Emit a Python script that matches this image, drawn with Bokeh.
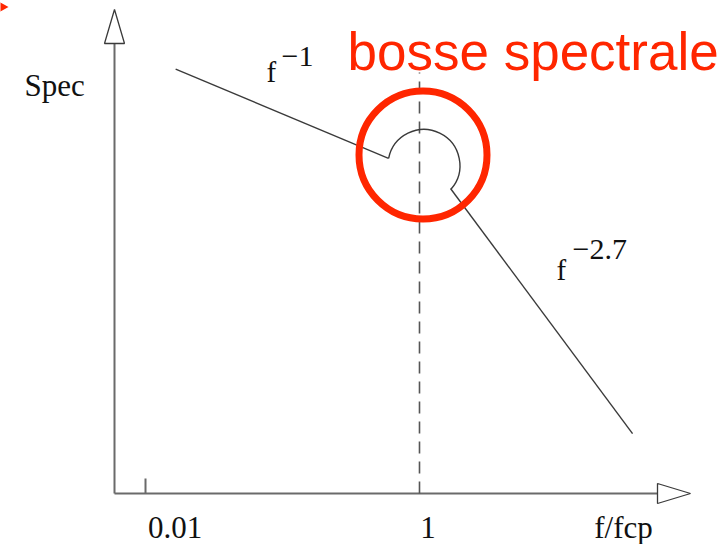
import math

from bokeh.core.properties import value
from bokeh.embed import file_html
from bokeh.models import Range1d
from bokeh.plotting import figure
from bokeh.resources import INLINE

# --- spectrum schematic, log-log: Spec versus f/fcp -------------------------
# low-frequency branch, Spec ~ f^-1
f_low = [0.0166, 0.594]
spec_low = [60.2, 1.63]
# high-frequency branch, Spec ~ f^-2.7
f_high = [1.684, 35.9]
spec_high = [0.483, 2.43e-5]
# spectral bump around the cut-off frequency
bump_f = [1.077]
bump_spec = [1.224]
# cut-off frequency (dashed line) and ticks on the frequency axis
fcp = [1.0]
tick_f = [0.01, 1.0]
tick_labels = ["0.01", "1"]

# --- view: decades mapped onto a 724 x 544 canvas -----------------------------
W, H = 724, 544
X0, X1 = 8.74e-4, 168.4
Y0, Y1 = 2.75e-7, 960.0


def fx(px):
    """horizontal canvas position -> frequency"""
    return X0 * (X1 / X0) ** (px / W)


def sy(py):
    """vertical canvas position (from top) -> spectrum level"""
    return Y0 * (Y1 / Y0) ** ((H - py) / H)


px_per_dec_x = W / math.log10(X1 / X0)
px_per_dec_y = H / math.log10(Y1 / Y0)

p = figure(width=W, height=H, x_axis_type="log", y_axis_type="log",
           x_range=Range1d(X0, X1), y_range=Range1d(Y0, Y1),
           x_axis_location=None, y_axis_location=None,
           toolbar_location=None, output_backend="svg", min_border=0)
p.outline_line_color = None
p.background_fill_color = "white"
p.border_fill_color = "white"
p.xgrid.grid_line_color = None
p.ygrid.grid_line_color = None

AX = "#6a6a6a"
INK = "#3a3a3a"
RED = "#ff2600"
SERIF = value("Liberation Serif")

# axes with open arrow heads
ax_f, ax_s = fx(114), sy(493)
p.line([ax_f, ax_f], [ax_s, sy(43)], line_color=AX, line_width=2)
p.line([ax_f, fx(657)], [ax_s, ax_s], line_color=AX, line_width=2)
p.patch([ax_f, fx(104), fx(124)], [sy(9), sy(43), sy(43)],
        fill_color="white", line_color=INK, line_width=1.3)
p.patch([fx(690), fx(657), fx(657)], [ax_s, sy(483), sy(503)],
        fill_color="white", line_color=INK, line_width=1.3)

# tick mark at 0.01
p.segment(x0=tick_f[:1], y0=[ax_s], x1=tick_f[:1], y1=[sy(478)],
          line_color=AX, line_width=2)

# cut-off frequency
p.segment(x0=fcp, y0=[ax_s], x1=fcp, y1=[sy(72)],
          line_color="#555555", line_width=1.6, line_dash="12 8")

# spectrum branches
p.line(f_low, spec_low, line_color=INK, line_width=1.4)
p.line(f_high, spec_high, line_color=INK, line_width=1.4)


def screen_angle(f, s):
    dx = px_per_dec_x * math.log10(f / bump_f[0])
    dy = px_per_dec_y * math.log10(s / bump_spec[0])
    return math.atan2(dy, dx)


a_start = screen_angle(f_high[0], spec_high[0])
a_end = screen_angle(f_low[-1], spec_low[-1])
p.arc(x=bump_f, y=bump_spec, radius=36, radius_units="screen",
      start_angle=a_start, end_angle=a_end,
      direction="anticlock", line_color=INK, line_width=1.4)

# highlight of the bump
p.scatter(x=[fx(422.5)], y=[sy(154.5)], marker="circle", size=128,
          fill_color=None, line_color=RED, line_width=7)
p.patch([fx(-2), fx(8), fx(-2)], [sy(1), sy(6.5), sy(12)],
        fill_color=RED, line_color=None)


def label(xs, baselines, texts, size, align="left", font=SERIF, color="#111111"):
    """place texts by their baseline (canvas px from the top)"""
    lift = 0.35 * size
    p.text(x=[fx(x) for x in xs], y=[sy(b - lift) for b in baselines],
           text=texts, text_font=font, text_font_size=f"{size}px",
           text_align=align, text_baseline="alphabetic", text_color=color)


label([174.5, 427.5], [537.5, 537.5], tick_labels, 31, align="center")
label([623], [537.5], ["f/fcp"], 31, align="center")
label([24], [96], ["Spec"], 31)
label([266, 556], [82, 280], ["f", "f"], 29)
label([281, 572], [66, 259], ["\u22121", "\u22122.7"], 30)
label([347], [70], ["bosse spectrale"], 53,
      font=value("Liberation Sans"), color=RED)

open("out.html", "w").write(file_html(p, INLINE, title="Spectre"))
